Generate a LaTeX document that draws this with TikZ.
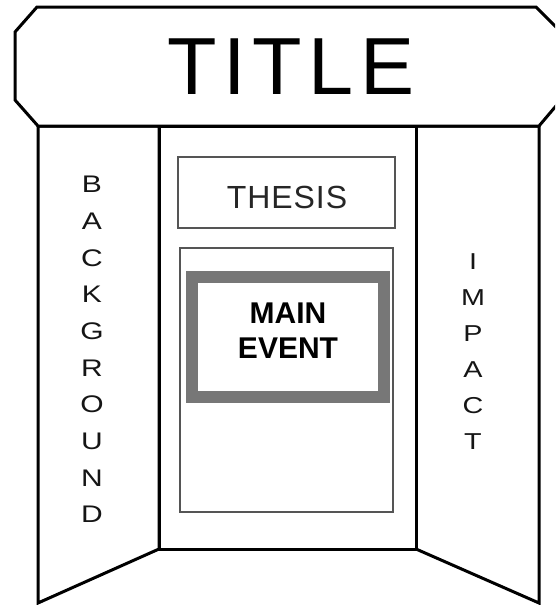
\documentclass[tikz,border=0pt]{standalone}
\usepackage{fontspec}
\setmainfont{Liberation Sans}
\newfontfamily\titlefont[LetterSpace=8]{Liberation Sans}
\newfontfamily\thesisfont[LetterSpace=3]{Liberation Sans}
\newfontfamily\widefont[FakeStretch=1.25]{Liberation Sans}
\definecolor{framegray}{HTML}{777777}
\definecolor{boxgray}{HTML}{555555}
\definecolor{inkdark}{HTML}{151515}
\tikzset{
  board/.style={draw=black, line width=3pt, fill=white},
  thinbox/.style={draw=boxgray, line width=1.8pt},
  letters/.style={align=center, text=inkdark, inner sep=0pt,
    font=\widefont\fontsize{24}{36.7}\selectfont},
}
\begin{document}
\begin{tikzpicture}[x=1pt,y=-1pt]
\useasboundingbox (0,0) rectangle (555,605);
\fill[white] (0,0) rectangle (555,605);
\begin{scope}
\clip (0,0) rectangle (555,605);
% panels
\draw[board] (38,126) -- (159,126) -- (159,549) -- (38,603) -- cycle;
\draw[board] (416,126) -- (539,126) -- (539,603) -- (416,549) -- cycle;
\draw[board] (159,126) -- (416,126) -- (416,549) -- (159,549) -- cycle;
% title banner
\draw[board] (37,7) -- (536,7) -- (561,32) -- (561,100) -- (539,126)
  -- (38,126) -- (15,100) -- (15,32) -- cycle;
\end{scope}
\node[inner sep=0pt, font=\titlefont\fontsize{81}{81}\selectfont] (title) at (291,67) {TITLE};
% thesis box
\draw[thinbox] (178,157) rectangle (395,228);
\node[inner sep=0pt, text=black!85, font=\thesisfont\fontsize{32}{32}\selectfont] (thesis) at (287,197) {THESIS};
% main frame
\draw[draw=boxgray, line width=1.5pt] (180,248) rectangle (393,512);
\draw[draw=framegray, line width=12pt] (192,277) rectangle (384,397);
\node[align=center, inner sep=0pt, font=\bfseries\fontsize{30}{35}\selectfont] (main) at (288,331) {MAIN\\EVENT};
% side labels
\node[letters] (background) at (92,349.5) {B\\A\\C\\K\\G\\R\\O\\U\\N\\D};
\node[letters, font=\widefont\fontsize{23}{36}\selectfont] (impact) at (473,351.5) {I\\M\\P\\A\\C\\T};
\end{tikzpicture}
\end{document}
